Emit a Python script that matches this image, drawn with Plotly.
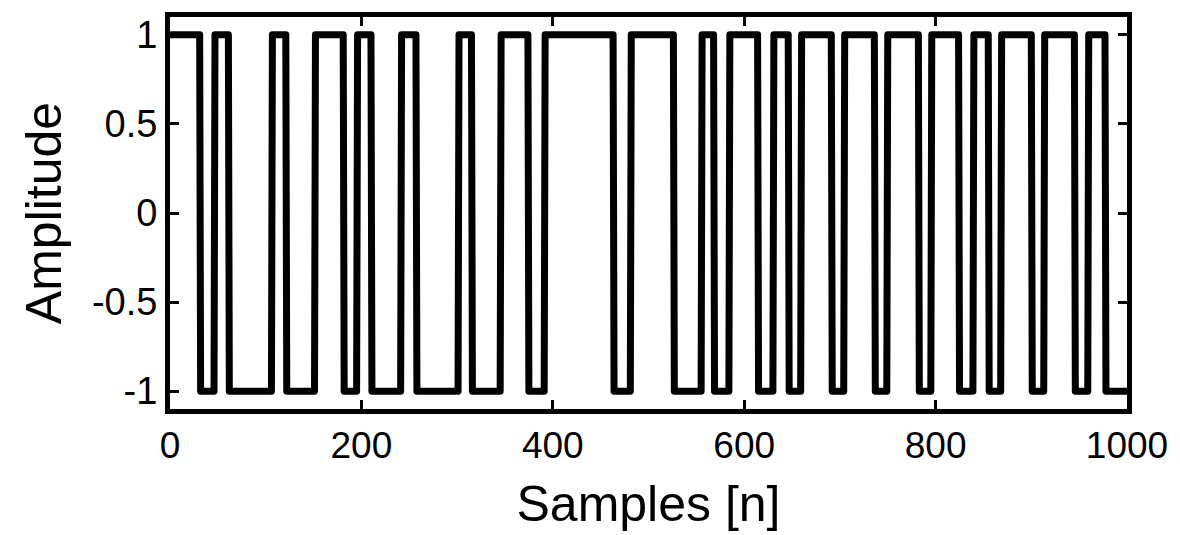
import plotly.graph_objects as go

# Binary (+1/-1) signal: sample indices where each constant segment starts/ends,
# and the level held on each segment.
edges = [0, 31, 46, 61, 106, 121, 151, 181, 195, 210, 241, 257, 301, 315, 345,
         374, 391, 463, 481, 526, 555, 568, 584, 614, 630, 646, 659, 691, 704,
         736, 749, 782, 795, 824, 839, 855, 868, 900, 913, 945, 959, 977, 1000]
levels = [1, -1, 1, -1, 1, -1, 1, -1, 1, -1, 1, -1, 1, -1, 1, -1, 1, -1, 1,
          -1, 1, -1, 1, -1, 1, -1, 1, -1, 1, -1, 1, -1, 1, -1, 1, -1, 1, -1,
          1, -1, 1, -1]

x_ticks = [0, 200, 400, 600, 800, 1000]
y_ticks = [-1, -0.5, 0, 0.5, 1]
y_tick_text = ["-1", "-0.5", "0", "0.5", "1"]

# Expand segments into a sampled polyline: each level is held over its segment,
# and the switch to the next level happens over one sample.
xs, ys = [], []
for i, lev in enumerate(levels):
    start = edges[i] if i == 0 else edges[i] + 1
    end = edges[i + 1]
    xs += [start, end]
    ys += [lev, lev]

fig = go.Figure(go.Scatter(x=xs, y=ys, mode="lines",
                           line=dict(color="black", width=7),
                           hoverinfo="skip", showlegend=False))

font_family = "Liberation Sans, Arial, Helvetica, sans-serif"
axis_common = dict(showline=True, linecolor="black", linewidth=5, mirror="ticks",
                   ticks="inside", ticklen=9, tickwidth=3, tickcolor="black",
                   showgrid=False, zeroline=False)

fig.update_xaxes(range=[0, 1000], tickvals=x_ticks,
                 tickfont=dict(family=font_family, size=37, color="black"),
                 title=dict(text="Samples [n]", standoff=22,
                            font=dict(family=font_family, size=50, color="black")),
                 **axis_common)
fig.update_yaxes(range=[-1.1, 1.1], tickvals=y_ticks, ticktext=y_tick_text,
                 tickfont=dict(family=font_family, size=38, color="black"),
                 title=dict(text="Amplitude", standoff=16,
                            font=dict(family=font_family, size=50, color="black")),
                 **axis_common)

fig.update_layout(width=1180, height=535,
                  margin=dict(l=170, r=53, t=17, b=126),
                  paper_bgcolor="white", plot_bgcolor="white")

# Round the corners of the signal trace
round_joins = """
document.querySelectorAll('.scatterlayer path.js-line').forEach(function (p) {
    p.style.strokeLinejoin = 'round';
    p.style.strokeLinecap = 'round';
});
"""
fig.write_html("out.html", post_script=round_joins)
